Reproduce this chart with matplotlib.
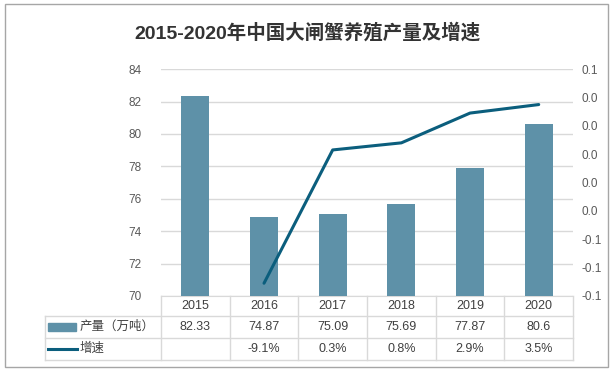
import matplotlib
matplotlib.use("Agg")
import matplotlib.pyplot as plt
from matplotlib.lines import Line2D
from matplotlib.patches import Rectangle
from matplotlib.ticker import FuncFormatter, MultipleLocator

plt.rcParams['font.family'] = ['Liberation Sans', 'Noto Sans CJK SC']

years = ['2015', '2016', '2017', '2018', '2019', '2020']
output = [82.33, 74.87, 75.09, 75.69, 77.87, 80.6]
output_labels = ['82.33', '74.87', '75.09', '75.69', '77.87', '80.6']
growth = [None, -0.091, 0.003, 0.008, 0.029, 0.035]
growth_labels = ['', '-9.1%', '0.3%', '0.8%', '2.9%', '3.5%']

bar_color = '#5E91A8'
line_color = '#0B5E7D'
grid_color = '#D9D9D9'
tick_color = '#595959'

fig = plt.figure(figsize=(6.15, 3.75), dpi=100)
fig.patch.set_facecolor('white')
fig.add_artist(Rectangle((0.008, 0.021), 0.981, 0.968, transform=fig.transFigure,
                         fill=False, edgecolor='#A6A6A6', linewidth=1))

fig.text(0.5, 0.912, '2015-2020年中国大闸蟹养殖产量及增速', ha='center', va='center',
         fontsize=14, fontweight='bold', color='#333333')

ax = fig.add_axes([0.2618, 0.2107, 0.670, 0.605])
x = list(range(len(years)))
ax.bar(x, output, width=0.41, color=bar_color, zorder=3)
ax.set_ylim(70, 84)
ax.set_xlim(-0.5, 5.5)
ax.yaxis.set_major_locator(MultipleLocator(2))
ax.grid(axis='y', color=grid_color, linewidth=1, zorder=0)
ax.set_xticks([])
for s in ['top', 'right', 'left']:
    ax.spines[s].set_visible(False)
ax.spines['bottom'].set_color(grid_color)
ax.tick_params(axis='y', length=0, colors=tick_color, labelsize=8.5, pad=14)

ax2 = ax.twinx()
gx = [i for i, g in zip(x, growth) if g is not None]
gy = [g for g in growth if g is not None]
ax2.plot(gx, gy, color=line_color, linewidth=2.2, solid_capstyle='round', zorder=4)
ax2.set_ylim(-0.10, 0.06)
ax2.yaxis.set_major_locator(MultipleLocator(0.02))
ax2.yaxis.set_major_formatter(FuncFormatter(lambda v, p: '%.1f' % (round(v, 1) + 0.0)))
for s in ax2.spines.values():
    s.set_visible(False)
ax2.tick_params(axis='y', length=0, colors=tick_color, labelsize=8.5, pad=6)

# data table under the axis
tr = ax.get_xaxis_transform()
row_lines = [-0.088, -0.185, -0.282]
leg_x = -2.19
for yl in row_lines:
    ax.add_line(Line2D([leg_x, 5.5], [yl, yl], transform=tr, color=grid_color,
                       linewidth=1, clip_on=False))
ax.add_line(Line2D([leg_x, leg_x], [row_lines[0], row_lines[-1]], transform=tr,
                   color=grid_color, linewidth=1, clip_on=False))
for b in range(len(years) + 1):
    ax.add_line(Line2D([b - 0.5, b - 0.5], [0, row_lines[-1]], transform=tr,
                       color=grid_color, linewidth=1, clip_on=False))

txt = dict(ha='center', va='center', fontsize=9, color='#404040', transform=tr)
for i in x:
    ax.text(i, -0.044, years[i], **txt)
    ax.text(i, -0.137, output_labels[i], **txt)
    ax.text(i, -0.233, growth_labels[i], **txt)

ax.add_patch(Rectangle((leg_x + 0.05, -0.154), 0.4, 0.034, transform=tr,
                       color=bar_color, clip_on=False))
ax.text(leg_x + 0.5, -0.137, '产量（万吨）', ha='left', va='center', fontsize=9,
        color='#404040', transform=tr)
ax.add_line(Line2D([leg_x + 0.04, leg_x + 0.46], [-0.233, -0.233], transform=tr,
                   color=line_color, linewidth=2.2, clip_on=False))
ax.text(leg_x + 0.5, -0.233, '增速', ha='left', va='center', fontsize=9,
        color='#404040', transform=tr)

fig.savefig('out.png', dpi=100)
